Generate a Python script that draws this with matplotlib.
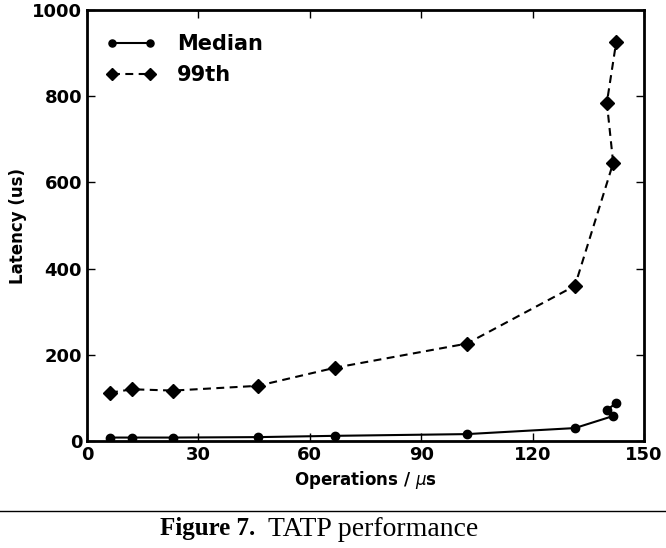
import matplotlib
matplotlib.use("Agg")
import matplotlib.pyplot as plt

ops = [6.2, 12.1, 23.2, 46.0, 66.8, 102.3, 131.4, 141.7, 140.0, 142.5]
median = [8, 8, 8, 9, 12, 16, 30, 58, 72, 88]
p99 = [112, 120, 117, 128, 170, 226, 360, 645, 785, 925]
xticks = [0, 30, 60, 90, 120, 150]
yticks = [0, 200, 400, 600, 800, 1000]

fig = plt.figure(figsize=(6.66, 5.48), dpi=100)
ax = fig.add_axes([87/666, (548-441)/548, (644-87)/666, (441-10)/548])

ax.plot(ops, median, '-', color='black', marker='o', markersize=6, linewidth=1.5, label='Median')
ax.plot(ops, p99, '--', color='black', marker='D', markersize=7, linewidth=1.5, dashes=(3.8, 2.6), label='99th')

ax.set_xlim(0, 150)
ax.set_ylim(0, 1000)
ax.set_xticks(xticks)
ax.set_yticks(yticks)
ax.tick_params(direction='in', top=True, right=True, length=6, width=1, labelsize=13)
for lbl in ax.get_xticklabels() + ax.get_yticklabels():
    lbl.set_fontweight('bold')
for s in ax.spines.values():
    s.set_linewidth(2)

ax.set_xlabel('Operations / $\\mu$s', fontsize=12, fontweight='bold')
ax.set_ylabel('Latency (us)', fontsize=12, fontweight='bold')

leg = ax.legend(loc='upper left', bbox_to_anchor=(0.0189, 1 - 0.0374), borderaxespad=0,
                frameon=False, prop={'weight': 'bold', 'size': 15}, markerscale=0.85,
                numpoints=2, handlelength=2.43, handletextpad=0.99, labelspacing=0.5)

fig.add_artist(plt.Line2D([0, 1], [(548-511)/548, (548-511)/548], color='black', linewidth=1, transform=fig.transFigure))
yc = (548-529)/548
t1 = fig.text(160/666, yc, 'Figure 7.', ha='left', va='center', fontsize=18,
              family='Liberation Serif', fontweight='bold')
t2 = fig.text(268/666, yc, 'TATP performance', ha='left', va='center', fontsize=20,
              family='Liberation Serif')

fig.savefig('out.png', dpi=100)
